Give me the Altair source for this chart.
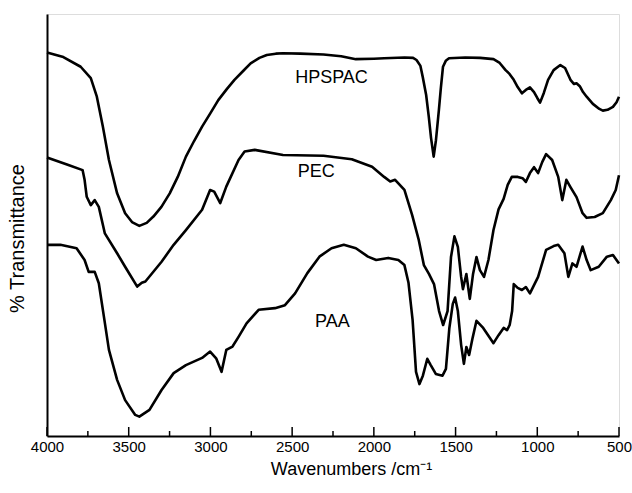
import altair as alt
import pandas as pd

# ---- data ----
hpspac_wn = [4000, 3900, 3794, 3732, 3695, 3658, 3621, 3571, 3522, 3480, 3435, 3390, 3349, 3300,
             3249, 3200, 3150, 3100, 3051, 3000, 2952, 2900, 2853, 2800, 2754, 2700, 2655, 2600,
             2556, 2450, 2308, 2200, 2110, 2000, 1937, 1813, 1760, 1739, 1715, 1701, 1680, 1664,
             1650, 1634, 1620, 1602, 1590, 1577, 1560, 1540, 1441, 1350, 1268, 1230, 1194, 1170,
             1144, 1120, 1094, 1070, 1045, 1020, 1000, 983, 960, 934, 900, 859, 830, 797, 775,
             760, 740, 720, 698, 660, 620, 599, 570, 537, 515, 500]
hpspac_t = [90.9, 89.8, 87.5, 84.8, 80.4, 73.3, 65.4, 57.5, 52.8, 50.7, 49.8, 50.5, 52.0, 54.3,
            57.5, 61.4, 66.2, 69.9, 73.3, 76.5, 79.6, 82.2, 84.4, 86.5, 88.3, 89.6, 90.3, 90.6,
            90.7, 90.6, 90.4, 90.0, 89.3, 89.4, 89.5, 89.7, 89.6, 89.1, 87.7, 85.1, 80.8, 75.7,
            70.6, 66.2, 70.1, 77.3, 82.5, 87.5, 88.9, 89.5, 89.7, 89.6, 89.3, 88.4, 86.7, 85.8,
            84.4, 82.7, 81.2, 82.0, 82.6, 81.5, 80.1, 79.0, 81.3, 84.4, 86.7, 87.9, 87.2, 84.4, 83.4,
            83.6, 82.9, 81.5, 80.4, 78.7, 77.5, 77.1, 77.3, 78.0, 79.1, 80.4]

pec_wn = [4000, 3869, 3782, 3770, 3757, 3732, 3708, 3683, 3646, 3571, 3522, 3448, 3420, 3398,
          3299, 3225, 3150, 3051, 3002, 2977, 2940, 2903, 2828, 2791, 2729, 2556, 2308, 2135,
          2011, 1937, 1900, 1870, 1813, 1766, 1725, 1694, 1663, 1632, 1601, 1576, 1549, 1528,
          1507, 1486, 1466, 1455, 1434, 1413, 1393, 1372, 1351, 1326, 1299, 1268, 1237, 1206,
          1181, 1156, 1119, 1090, 1070, 1045, 1020, 995, 970, 946, 909, 872, 847, 822, 797,
          760, 723, 698, 649, 599, 550, 520, 500]
pec_t = [66.0, 64.2, 63.0, 60.7, 56.7, 54.7, 55.9, 54.3, 48.0, 43.3, 40.1, 35.4, 36.3, 36.6,
         41.3, 45.3, 48.8, 53.6, 58.3, 57.9, 55.2, 59.1, 65.4, 67.4, 67.8, 66.6, 66.4, 65.6,
         63.8, 61.4, 60.3, 60.7, 58.3, 52.4, 46.4, 40.5, 38.4, 36.0, 29.6, 26.3, 29.6, 42.4,
         47.3, 44.8, 37.7, 34.8, 38.4, 32.5, 38.4, 42.4, 39.3, 37.7, 41.7, 48.8, 53.7, 56.2,
         59.5, 61.4, 61.4, 61.1, 60.2, 62.3, 63.7, 62.3, 64.9, 66.8, 65.4, 61.4, 55.9, 60.7, 59.0,
         56.6, 52.8, 51.7, 51.9, 52.8, 55.9, 58.3, 61.8]

paa_wn = [4000, 3918, 3819, 3770, 3745, 3720, 3708, 3683, 3646, 3621, 3571, 3522, 3460, 3435,
          3373, 3299, 3225, 3150, 3051, 3002, 2965, 2932, 2903, 2865, 2828, 2779, 2705, 2605,
          2544, 2482, 2407, 2333, 2259, 2184, 2110, 2036, 1986, 1912, 1850, 1813, 1788, 1763,
          1742, 1721, 1700, 1673, 1652, 1621, 1580, 1559, 1538, 1517, 1503, 1486, 1466, 1449,
          1434, 1417, 1396, 1372, 1331, 1268, 1237, 1206, 1185, 1169, 1154, 1144, 1120, 1094,
          1070, 1045, 995, 946, 900, 872, 834, 810, 785, 760, 723, 698, 673, 624, 574, 537, 500]
paa_t = [45.3, 45.3, 44.5, 41.7, 38.9, 38.9, 38.9, 36.2, 26.8, 20.4, 13.3, 8.5, 5.0, 4.6,
         6.2, 10.9, 14.9, 16.8, 18.5, 20.0, 18.4, 15.2, 20.4, 21.2, 23.5, 26.7, 29.9, 30.3,
         31.0, 33.8, 38.6, 42.5, 44.5, 45.3, 44.5, 42.5, 41.7, 42.2, 41.7, 40.5, 36.3, 27.5,
         15.2, 12.3, 14.3, 18.3, 16.8, 14.7, 14.3, 15.9, 25.6, 31.3, 32.8, 29.6, 21.6, 17.1,
         21.1, 19.2, 23.2, 27.3, 25.6, 22.0, 23.9, 25.6, 25.1, 26.3, 29.6, 36.0, 35.1, 34.6,
         35.3, 33.8, 37.7, 44.1, 45.0, 45.3, 43.3, 37.7, 40.9, 40.1, 44.9, 41.7, 39.3, 40.1, 42.5, 42.9, 40.9]

label_text = ["HPSPAC", "PEC", "PAA"]
label_wn = [2259, 2353, 2254]
label_t = [84.8, 62.6, 27.1]

major_ticks = [4000, 3500, 3000, 2500, 2000, 1500, 1000, 500]
minor_ticks = [3750, 3250, 2750, 2250, 1750, 1250, 750]

# ---- tables ----
rows = []
for name, wn, t in [("HPSPAC", hpspac_wn, hpspac_t), ("PEC", pec_wn, pec_t), ("PAA", paa_wn, paa_t)]:
    for w, v in zip(wn, t):
        rows.append({"series": name, "wn": w, "t": v})
df = pd.DataFrame(rows)
labels_df = pd.DataFrame({"text": label_text, "wn": label_wn, "t": label_t})
major_df = pd.DataFrame({"wn": major_ticks})
minor_df = pd.DataFrame({"wn": minor_ticks})

FONT = "Liberation Sans"
W, H = 572, 422

xscale = alt.Scale(domain=[4000, 500], nice=False, zero=False)
yscale = alt.Scale(domain=[0, 100], nice=False, zero=False)

x_axis = alt.Axis(
    values=major_ticks, format="d", ticks=False, tickSize=0, grid=False,
    labelFont=FONT, labelFontSize=15, labelColor="black", labelPadding=3,
    labelFlush=False, labelOverlap=False,
    domainColor="black", domainWidth=2,
    title="Wavenumbers /cm\u207b\u00b9", titleFont=FONT, titleFontSize=18,
    titleFontWeight="normal", titleColor="black",
    titleX=304, titleY=38, titleAlign="center", titleBaseline="alphabetic",
)
y_axis = alt.Axis(
    labels=False, ticks=False, tickSize=0, grid=False,
    domainColor="black", domainWidth=2,
    title="% Transmittance", titleFont=FONT, titleFontSize=20,
    titleFontWeight="normal", titleColor="black", titleAngle=-90,
    titleX=-30, titleY=224, titleAlign="center", titleBaseline="middle",
)

lines = alt.Chart(df).mark_line(color="black", strokeWidth=2.6, strokeJoin="round").encode(
    x=alt.X("wn:Q", scale=xscale, axis=x_axis),
    y=alt.Y("t:Q", scale=yscale, axis=y_axis),
    detail="series:N",
    order=alt.Order("wn:Q", sort="descending"),
)

texts = alt.Chart(labels_df).mark_text(
    font=FONT, fontSize=18, color="black", align="center", baseline="middle"
).encode(
    x=alt.X("wn:Q", scale=xscale),
    y=alt.Y("t:Q", scale=yscale),
    text="text:N",
)

major = alt.Chart(major_df).mark_rule(color="black", strokeWidth=1.5).encode(
    x=alt.X("wn:Q", scale=xscale),
    y=alt.value(H),
    y2=alt.value(H - 9),
)
minor = alt.Chart(minor_df).mark_rule(color="black", strokeWidth=1.5).encode(
    x=alt.X("wn:Q", scale=xscale),
    y=alt.value(H),
    y2=alt.value(H - 5),
)

chart = alt.layer(lines, texts, major, minor).properties(
    width=W, height=H,
    autosize=alt.AutoSizeParams(type="none"),
    padding={"left": 47, "top": 14, "right": 13, "bottom": 57},
).configure_view(
    stroke="#9a9a9a", strokeWidth=1
).configure(background="white")

chart.save("out.html", embed_options={"renderer": "svg", "actions": False})
